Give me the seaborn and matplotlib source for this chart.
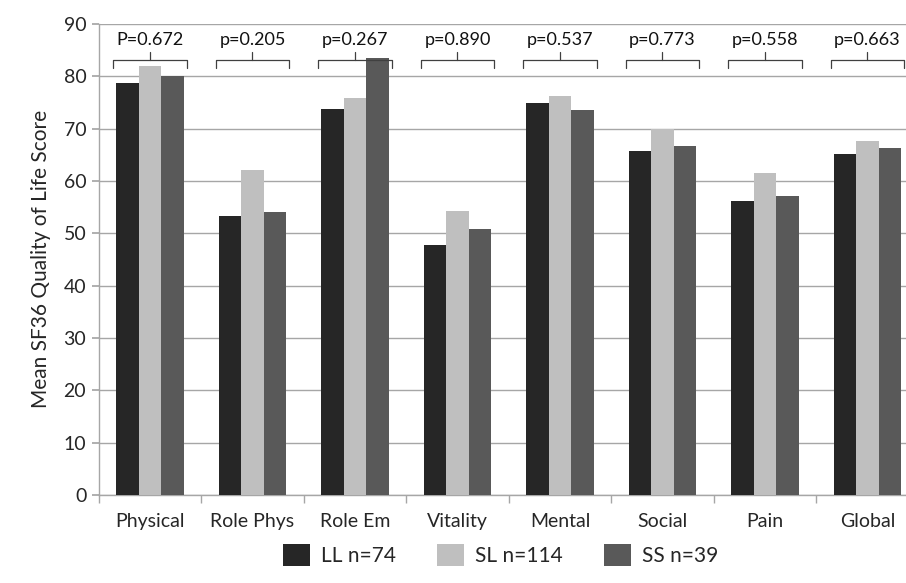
import pandas as pd
import matplotlib.pyplot as plt
import seaborn as sns
from matplotlib.patches import Patch

# values
domains = ["Physical", "Role Phys", "Role Em", "Vitality", "Mental", "Social", "Pain", "Global"]
groups = ["LL n=74", "SL n=114", "SS n=39"]
ll_scores = [78.8, 53.3, 73.7, 47.8, 74.8, 65.8, 56.1, 65.1]
sl_scores = [81.9, 62.1, 75.9, 54.2, 76.2, 70.0, 61.5, 67.7]
ss_scores = [80.0, 54.0, 83.5, 50.8, 73.5, 66.7, 57.1, 66.2]
p_labels = ["P=0.672", "p=0.205", "p=0.267", "p=0.890", "p=0.537", "p=0.773", "p=0.558", "p=0.663"]

df = pd.DataFrame({
    "Domain": domains * 3,
    "Group": [groups[0]] * 8 + [groups[1]] * 8 + [groups[2]] * 8,
    "Score": ll_scores + sl_scores + ss_scores,
})

sns.set_theme(style="white")
plt.rcParams["font.family"] = ["Lato", "DejaVu Sans"]

colors = {groups[0]: "#262626", groups[1]: "#bfbfbf", groups[2]: "#595959"}
grid_col = "#a6a6a6"

fig = plt.figure(figsize=(9.06, 5.83), dpi=100)
ax = fig.add_axes([0.109, 0.151, 0.905, 0.808])

sns.barplot(data=df, x="Domain", y="Score", hue="Group", palette=colors,
            width=0.66, saturation=1, linewidth=0, ax=ax, legend=False, zorder=3)

ax.set_ylim(0, 90)
ax.set_xlim(-0.5, len(domains) - 0.5)
ax.set_yticks(range(0, 91, 10))
ax.yaxis.grid(True, color=grid_col, linewidth=1.0, zorder=0)
ax.set_axisbelow(True)

for side in ["top", "right"]:
    ax.spines[side].set_visible(False)
ax.spines["left"].set_color(grid_col)
ax.spines["bottom"].set_color(grid_col)
ax.spines["left"].set_linewidth(1.0)
ax.spines["bottom"].set_linewidth(1.0)

ax.tick_params(axis="y", length=5, color=grid_col, labelsize=14, pad=4, left=True)
ax.tick_params(axis="x", which="major", length=0, labelsize=14, pad=13)
ax.set_xticks([i - 0.5 for i in range(len(domains) + 1)], minor=True)
ax.tick_params(axis="x", which="minor", length=6, color=grid_col, bottom=True)

ax.set_xlabel("")
ax.set_ylabel("Mean SF36 Quality of Life Score", fontsize=15, labelpad=9)

# brackets with p-values above each group
for i, lab in enumerate(p_labels):
    x0, x1 = i - 0.36, i + 0.36
    ax.plot([x0, x0, x1, x1], [81.6, 83.1, 83.1, 81.6], color="#404040", lw=0.9, zorder=4, clip_on=False)
    ax.plot([i, i], [83.1, 84.6], color="#404040", lw=0.9, zorder=4, clip_on=False)
    ax.text(i, 86.9, lab, ha="center", va="center", fontsize=13, color="#111111")

handles = [Patch(facecolor=colors[g], edgecolor="none") for g in groups]
ax.legend(handles, groups, loc="center", bbox_to_anchor=(0.49, -0.128), ncol=3,
          frameon=False, fontsize=15, handlelength=1.3, handleheight=1.2,
          columnspacing=2.0, handletextpad=0.5)

fig.savefig("out.png", dpi=100)
